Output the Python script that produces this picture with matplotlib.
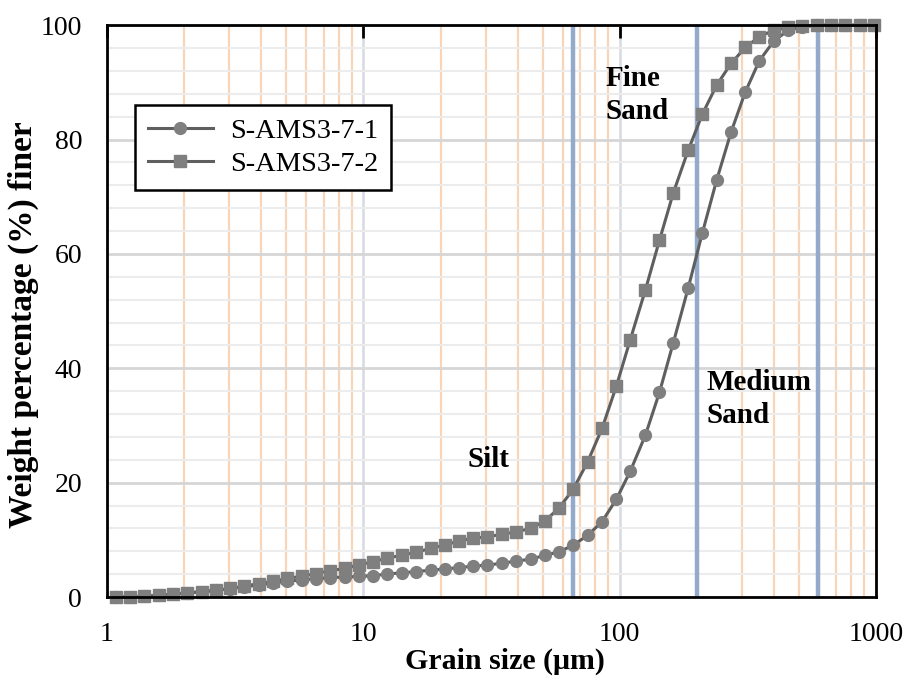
import matplotlib
matplotlib.use("Agg")
import matplotlib.pyplot as plt
from matplotlib.ticker import FixedLocator, NullFormatter, MultipleLocator

plt.rcParams['font.family'] = ['Liberation Serif', 'DejaVu Serif']

# ---- data ----
grain_size = [1.08, 1.23, 1.40, 1.59, 1.81, 2.05, 2.34, 2.66, 3.02, 3.43,
              3.90, 4.44, 5.05, 5.74, 6.53, 7.43, 8.45, 9.60, 10.9, 12.4,
              14.1, 16.1, 18.3, 20.8, 23.6, 26.9, 30.5, 34.7, 39.5, 44.9,
              51.1, 58.1, 66.0, 75.1, 85.4, 97.1, 110, 126, 143, 162,
              185, 210, 239, 272, 309, 351, 399, 454, 516, 587,
              668, 759, 864, 982]

s1_label = "S-AMS3-7-1"
s1_values = [0.0, 0.05, 0.15, 0.3, 0.45, 0.7, 0.9, 1.15, 1.45, 1.8,
             2.1, 2.45, 2.75, 3.0, 3.2, 3.4, 3.5, 3.6, 3.75, 4.0,
             4.25, 4.45, 4.7, 4.9, 5.15, 5.4, 5.6, 5.9, 6.3, 6.6,
             7.3, 7.9, 9.1, 10.8, 13.2, 17.1, 22.0, 28.3, 35.8, 44.5,
             54.0, 63.6, 72.9, 81.3, 88.3, 93.8, 97.2, 99.1, 99.7, 100,
             100, 100, 100, 100]

s2_label = "S-AMS3-7-2"
s2_values = [0.05, 0.05, 0.15, 0.35, 0.5, 0.75, 0.95, 1.2, 1.5, 1.9,
             2.35, 2.75, 3.25, 3.65, 4.1, 4.6, 5.0, 5.6, 6.2, 6.8,
             7.3, 7.85, 8.5, 9.1, 9.8, 10.3, 10.5, 11.0, 11.4, 12.0,
             13.3, 15.6, 18.9, 23.7, 29.5, 36.9, 45.0, 53.7, 62.4, 70.7,
             78.1, 84.4, 89.5, 93.3, 96.1, 98.0, 99.1, 99.6, 99.8, 100,
             100, 100, 100, 100]

class_bounds = [66, 200, 595]
class_labels = ["Silt", "Fine\nSand", "Medium\nSand"]
class_label_pos = [(25.6, 24.0), (88, 87.8), (219, 34.6)]

x_ticks = [1, 10, 100, 1000]
y_ticks = [0, 20, 40, 60, 80, 100]

# ---- figure ----
fig = plt.figure(figsize=(9.07, 6.8), dpi=100)
ax = fig.add_axes([0.118, 0.122, 0.8478, 0.841])

ax.set_xscale('log')
ax.set_xlim(1, 1000)
ax.set_ylim(0, 100)

# grids
minor_x = [m * d for d in (1, 10, 100) for m in range(2, 10)]
ax.xaxis.set_major_locator(FixedLocator(x_ticks))
ax.xaxis.set_minor_locator(FixedLocator(minor_x))
ax.xaxis.set_minor_formatter(NullFormatter())
ax.set_xticklabels([str(t) for t in x_ticks])
ax.yaxis.set_major_locator(FixedLocator(y_ticks))
ax.yaxis.set_minor_locator(MultipleLocator(4))

ax.grid(True, axis='x', which='minor', color='#f8d5b8', lw=1.6, zorder=0)
ax.grid(True, axis='x', which='major', color='#d5dbe3', lw=1.8, zorder=0)
ax.grid(True, axis='y', which='minor', color='#ececec', lw=1.5, zorder=0)
ax.grid(True, axis='y', which='major', color='#d6d6d6', lw=2.0, zorder=0)
ax.set_axisbelow(True)

for b in class_bounds:
    ax.axvline(b, color='#93aacb', lw=3.2, zorder=1)

# series
ax.plot(grain_size, s1_values, color='#5f5f5f', lw=2.2, marker='o', ms=8.5,
        mfc='#7f7f7f', mec='#7f7f7f', label=s1_label, clip_on=False, zorder=3)
ax.plot(grain_size, s2_values, color='#5f5f5f', lw=2.2, marker='s', ms=8.5,
        mfc='#7f7f7f', mec='#7f7f7f', label=s2_label, clip_on=False, zorder=4)

for txt, (tx, ty) in zip(class_labels, class_label_pos):
    ax.text(tx, ty, txt, ha='left', va='center', fontsize=21,
            fontweight='bold', linespacing=1.3, zorder=5)

# spines & ticks
for sp in ax.spines.values():
    sp.set_linewidth(2.0)
    sp.set_color('black')
    sp.set_zorder(6)

ax.tick_params(axis='x', which='major', bottom=False, top=True, direction='in',
               length=9, width=2, labelsize=20, pad=18, labelbottom=True)
ax.tick_params(axis='x', which='minor', bottom=False, top=False, length=0)
ax.tick_params(axis='y', which='both', left=False, length=0, labelsize=20, pad=18)

ax.set_xlabel("Grain size (μm)", fontsize=21.5, fontweight='bold')
ax.xaxis.set_label_coords(0.517, -0.088)
ax.set_ylabel("Weight percentage (%) finer", fontsize=24, fontweight='bold')
ax.yaxis.set_label_coords(-0.088, 0.4755)

leg = ax.legend(loc='upper left', bbox_to_anchor=(0.036, 0.86), borderaxespad=0,
                fontsize=20.5, frameon=True, fancybox=False, edgecolor='black',
                framealpha=1, handlelength=2.3, borderpad=0.45, labelspacing=0.25,
                handletextpad=0.6)
leg.get_frame().set_linewidth(1.8)
leg.set_zorder(7)

fig.savefig("out.png", dpi=100)
